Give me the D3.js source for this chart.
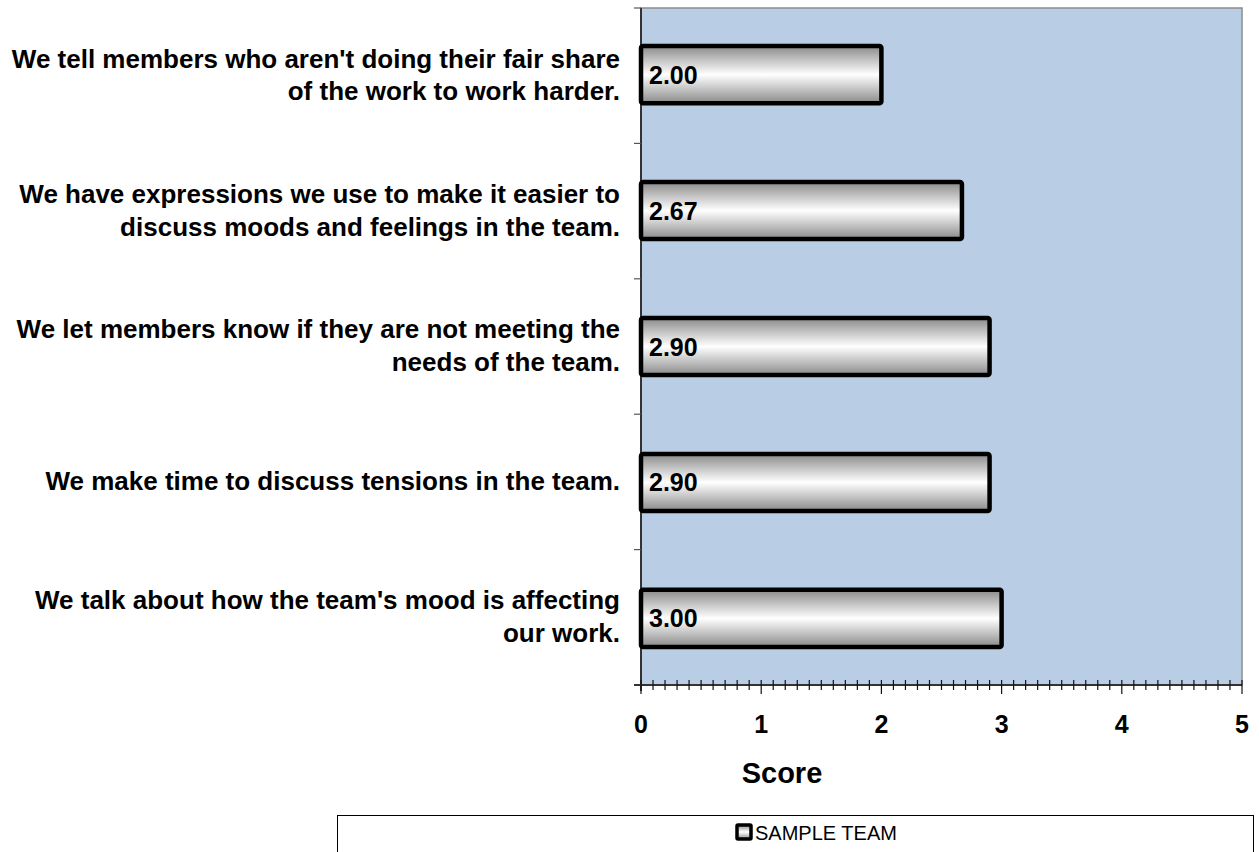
<!DOCTYPE html>
<html>
<head>
<meta charset="utf-8">
<script src="https://cdn.jsdelivr.net/npm/d3@7"></script>
<style>
  body { margin: 0; background: #fff; }
  svg { display: block; font-family: "Liberation Sans", Arial, sans-serif; }
</style>
</head>
<body>
<div id="chart"></div>
<script>
// chart data
const statements = [
    ["We tell members who aren't doing their fair share", "of the work to work harder."],
    ["We have expressions we use to make it easier to", "discuss moods and feelings in the team."],
    ["We let members know if they are not meeting the", "needs of the team."],
    ["We make time to discuss tensions in the team."],
    ["We talk about how the team's mood is affecting", "our work."]
];
const scores = [2.00, 2.67, 2.90, 2.90, 3.00];
const xTicks = [0, 1, 2, 3, 4, 5];
const seriesName = "SAMPLE TEAM";
const axisTitle = "Score";

const width = 1259, height = 852;
const margin = {top: 8, right: 17, bottom: 167, left: 641};

const svg = d3.select("#chart").append("svg")
    .attr("width", width)
    .attr("height", height);

const x = d3.scaleLinear().domain([0, 5]).range([margin.left, width - margin.right]);
const y = d3.scaleBand().domain(d3.range(statements.length))
    .range([margin.top, height - margin.bottom])
    .paddingInner(0.58).paddingOuter(0.28);

// gradient for the bars
const grad = svg.append("defs").append("linearGradient")
    .attr("id", "barGrad")
    .attr("x1", 0).attr("y1", 0).attr("x2", 0).attr("y2", 1);
grad.append("stop").attr("offset", "0%").attr("stop-color", "#8a8a8a");
grad.append("stop").attr("offset", "50%").attr("stop-color", "#ffffff");
grad.append("stop").attr("offset", "100%").attr("stop-color", "#8a8a8a");

// plot background
const yBottom = height - margin.bottom;
svg.append("rect")
    .attr("x", x(0)).attr("y", margin.top)
    .attr("width", x(5) - x(0)).attr("height", yBottom - margin.top)
    .attr("fill", "#b9cde5")
    .attr("stroke", "#8c8c8c").attr("stroke-width", 1.5);

// category axis on the left
const bandStep = (yBottom - margin.top) / statements.length;
const gy = svg.append("g");
gy.append("line")
    .attr("x1", x(0)).attr("x2", x(0))
    .attr("y1", margin.top).attr("y2", yBottom + 6)
    .attr("stroke", "#333").attr("stroke-width", 2);
d3.range(statements.length + 1).forEach(i => {
    gy.append("line")
        .attr("x1", x(0) - 7).attr("x2", x(0))
        .attr("y1", margin.top + i * bandStep).attr("y2", margin.top + i * bandStep)
        .attr("stroke", "#555").attr("stroke-width", 1.2);
});

// category labels
statements.forEach((lines, i) => {
    const cy = margin.top + (i + 0.5) * bandStep;
    const lh = 32.6;
    const t = svg.append("text")
        .attr("text-anchor", "end")
        .attr("font-weight", "bold")
        .attr("font-size", 26)
        .attr("fill", "#000");
    lines.forEach((ln, j) => {
        t.append("tspan")
            .attr("x", 620)
            .attr("y", cy - (lines.length - 1) * lh / 2 + j * lh - 1)
            .attr("dy", "0.35em")
            .text(ln);
    });
});

// bars
const bars = svg.append("g");
bars.selectAll("rect")
    .data(scores)
    .enter().append("rect")
    .attr("x", x(0))
    .attr("y", (d, i) => y(i))
    .attr("width", d => x(d) - x(0))
    .attr("height", y.bandwidth())
    .attr("rx", 2)
    .attr("fill", "url(#barGrad)")
    .attr("stroke", "#000")
    .attr("stroke-width", 4.5);

bars.selectAll("text")
    .data(scores)
    .enter().append("text")
    .attr("x", x(0) + 8)
    .attr("y", (d, i) => y(i) + y.bandwidth() / 2)
    .attr("dy", "0.36em")
    .attr("font-weight", "bold")
    .attr("font-size", 25)
    .text(d => d.toFixed(2));

// value axis with minor ticks
const gx = svg.append("g").attr("transform", `translate(0,${yBottom})`);
gx.append("line")
    .attr("x1", x(0) - 7).attr("x2", x(5))
    .attr("y1", 0).attr("y2", 0)
    .attr("stroke", "#333").attr("stroke-width", 2);
d3.range(0, 51).forEach(k => {
    const major = k % 10 === 0;
    gx.append("line")
        .attr("x1", x(k / 10)).attr("x2", x(k / 10))
        .attr("y1", -5).attr("y2", major ? 9 : 5)
        .attr("stroke", "#111").attr("stroke-width", 1.2);
});
gx.selectAll("text.tick")
    .data(xTicks)
    .enter().append("text")
    .attr("class", "tick")
    .attr("x", d => x(d))
    .attr("y", 48)
    .attr("text-anchor", "middle")
    .attr("font-weight", "bold")
    .attr("font-size", 25)
    .text(d => d);

svg.append("text")
    .attr("x", 782)
    .attr("y", 783)
    .attr("text-anchor", "middle")
    .attr("font-weight", "bold")
    .attr("font-size", 29)
    .text(axisTitle);

// legend
const legend = svg.append("g");
legend.append("rect")
    .attr("x", 337.5).attr("y", 815.5)
    .attr("width", 916).attr("height", 60)
    .attr("fill", "#fff").attr("stroke", "#000").attr("stroke-width", 1);
legend.append("rect")
    .attr("x", 737).attr("y", 825)
    .attr("width", 14).attr("height", 14)
    .attr("rx", 1)
    .attr("fill", "url(#barGrad)")
    .attr("stroke", "#000").attr("stroke-width", 3.5);
legend.append("text")
    .attr("x", 755).attr("y", 839.5)
    .attr("font-size", 20)
    .text(seriesName);
</script>
</body>
</html>
